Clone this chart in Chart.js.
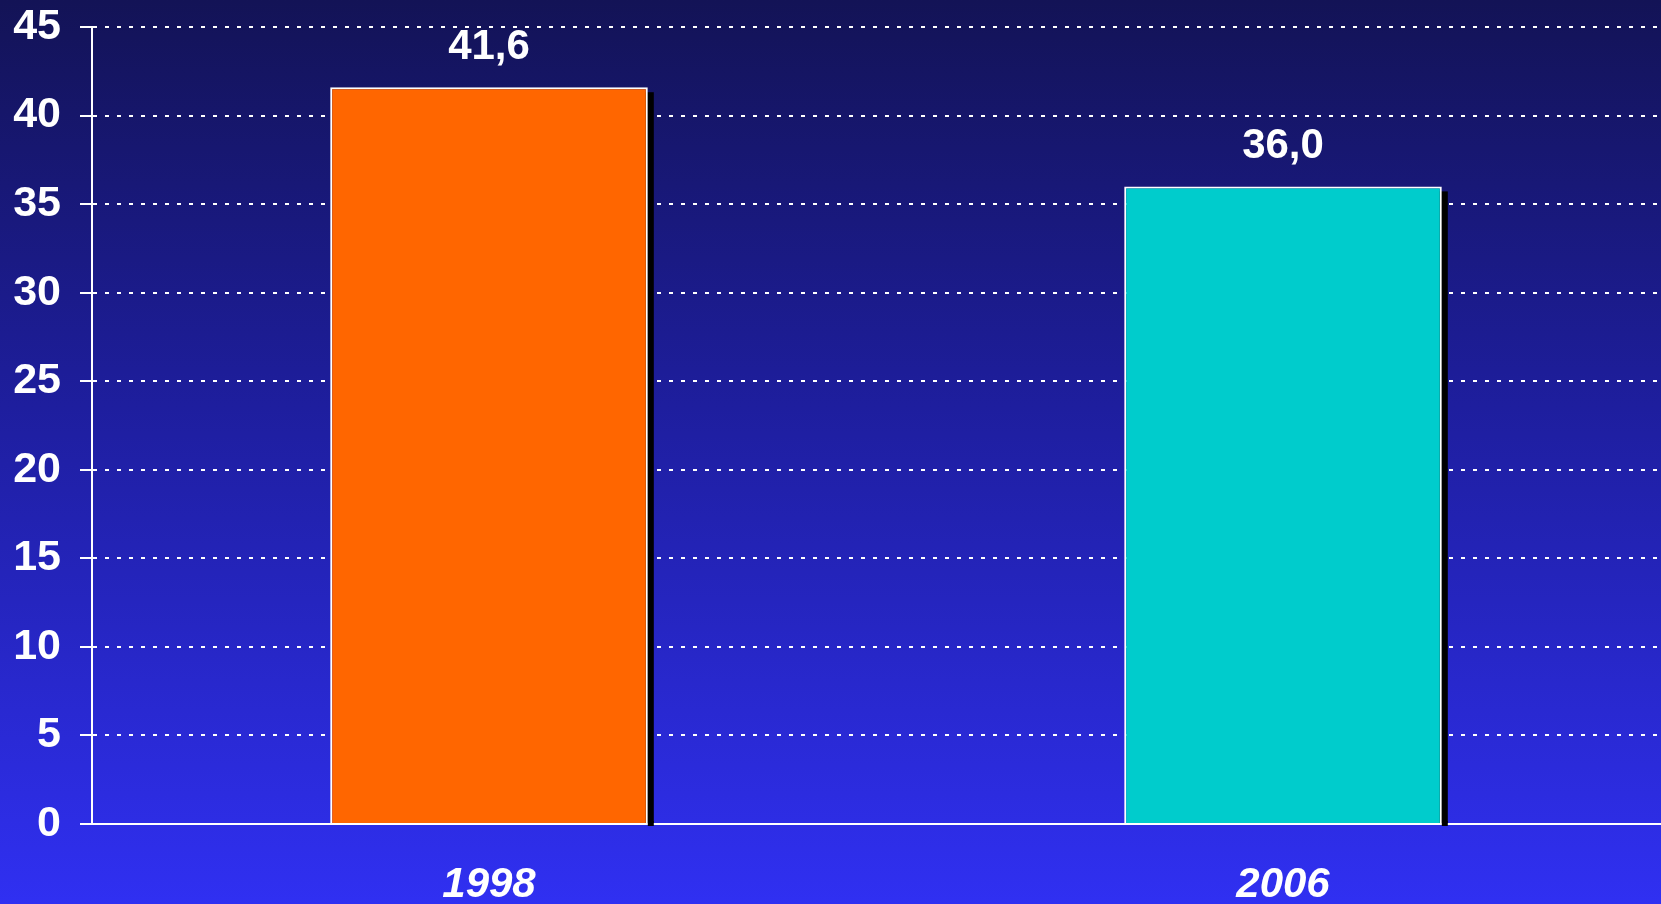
<!DOCTYPE html>
<html>
<head>
<meta charset="utf-8">
<script src="https://cdn.jsdelivr.net/npm/chart.js@4/dist/chart.umd.min.js"></script>
<style>
  html, body {
    margin: 0;
    padding: 0;
    width: 1661px;
    height: 904px;
    overflow: hidden;
    background: linear-gradient(to bottom, #131356 0%, #1e1e9e 45%, #3030f2 100%);
  }
  canvas { display: block; }
</style>
</head>
<body>
<canvas id="myChart" width="1680" height="904"></canvas>
<script>
const years = ['1998', '2006'];
const values = [41.6, 36.0];
const barColors = ['#ff6600', '#00cccc'];
const yTicks = [0, 5, 10, 15, 20, 25, 30, 35, 40, 45];

const ctx = document.getElementById('myChart');

// black drop shadow behind the bars, taken from the bar elements
const barShadow = {
    id: 'barShadow',
    beforeDatasetsDraw(chart) {
        const c = chart.ctx;
        const meta = chart.getDatasetMeta(0);
        c.save();
        c.fillStyle = '#000000';
        meta.data.forEach(function(bar) {
            const w = bar.width;
            c.fillRect(bar.x - w / 2 + 6, bar.y + 5, w, bar.base - bar.y - 5);
            c.fillRect(bar.x + w / 2, bar.base - 2, 6, 5);
        });
        c.restore();
    }
};

// value labels above the bars, decimal comma
const valueLabels = {
    id: 'valueLabels',
    afterDatasetsDraw(chart) {
        const c = chart.ctx;
        const meta = chart.getDatasetMeta(0);
        c.save();
        c.fillStyle = '#ffffff';
        c.font = 'bold 42px "Liberation Sans", Arial, sans-serif';
        c.textAlign = 'center';
        c.textBaseline = 'middle';
        meta.data.forEach(function(bar, i) {
            c.fillText(values[i].toFixed(1).replace('.', ','), bar.x, bar.y - 40);
        });
        c.restore();
    }
};

new Chart(ctx, {
    type: 'bar',
    data: {
        labels: years,
        datasets: [{
            data: values,
            backgroundColor: barColors,
            borderColor: '#ffffff',
            borderWidth: 2,
            barPercentage: 0.4,
            categoryPercentage: 1
        }]
    },
    options: {
        responsive: false,
        animation: false,
        layout: {
            padding: { left: 0, right: 0, top: 27, bottom: 0 }
        },
        plugins: {
            legend: { display: false },
            tooltip: { enabled: false }
        },
        scales: {
            y: {
                min: 0,
                max: 45,
                afterBuildTicks: function(axis) {
                    axis.ticks = yTicks.map(v => ({ value: v }));
                },
                afterFit: function(axis) {
                    axis.width = 92;
                    axis.paddingTop = 0;
                    axis.paddingBottom = 0;
                },
                grid: {
                    color: '#ffffff',
                    lineWidth: 2,
                    tickLength: 12,
                    tickColor: '#ffffff',
                    tickWidth: 2,
                    tickBorderDash: []
                },
                border: {
                    display: true,
                    color: '#ffffff',
                    width: 2,
                    dash: [4, 8]
                },
                ticks: {
                    color: '#ffffff',
                    padding: 19,
                    font: { family: '"Liberation Sans", Arial, sans-serif', size: 43, weight: 'bold' }
                }
            },
            x: {
                afterFit: function(axis) {
                    axis.height = 80;
                },
                grid: { display: false, drawTicks: false },
                border: { display: true, color: '#ffffff', width: 2 },
                ticks: {
                    color: '#ffffff',
                    padding: 36,
                    font: { family: '"Liberation Sans", Arial, sans-serif', size: 42, weight: 'bold', style: 'italic' }
                }
            }
        }
    },
    plugins: [barShadow, valueLabels]
});
</script>
</body>
</html>
